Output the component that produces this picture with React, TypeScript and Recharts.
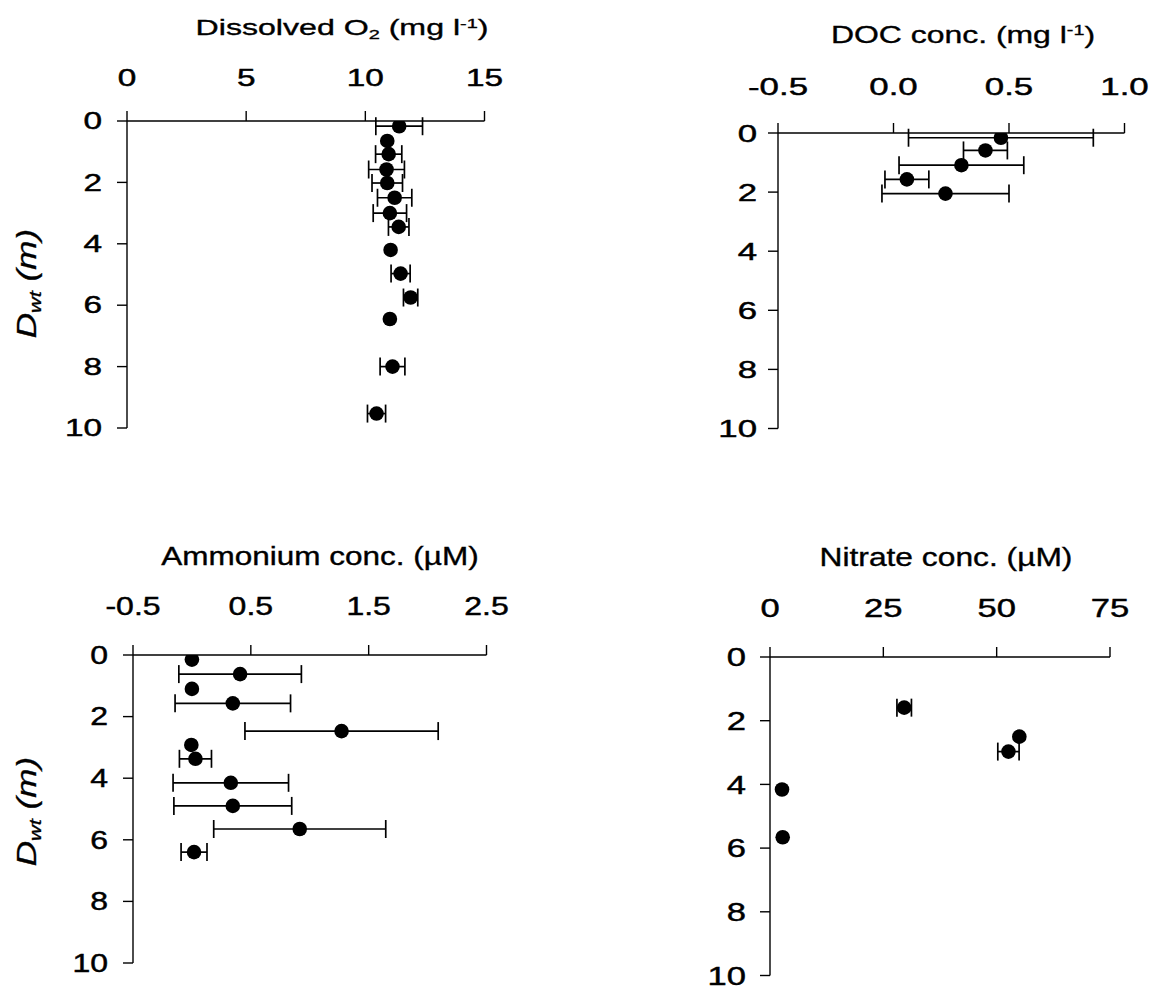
import React from "react";
import { ScatterChart, Scatter, XAxis, YAxis, ErrorBar } from "recharts";

const o2Depth = [0.17, 0.65, 1.08, 1.58, 2.02, 2.5, 3.0, 3.45, 4.2, 4.97, 5.75, 6.45, 8.0, 9.53];
const o2Value = [11.42, 10.92, 10.98, 10.89, 10.92, 11.23, 11.03, 11.4, 11.06, 11.48, 11.9, 11.03, 11.14, 10.47];
const o2Err = [0.98, 0, 0.55, 0.75, 0.64, 0.72, 0.7, 0.43, 0, 0.4, 0.3, 0, 0.52, 0.38];

const docDepth = [0.16, 0.59, 1.09, 1.57, 2.05];
const docValue = [0.465, 0.398, 0.294, 0.058, 0.225];
const docErr = [0.4, 0.095, 0.27, 0.095, 0.275];

const nh4Depth = [0.15, 0.62, 1.1, 1.57, 2.47, 2.92, 3.37, 4.15, 4.9, 5.65, 6.4];
const nh4Value = [0.0, 0.409, 0.0, 0.347, 1.27, -0.005, 0.03, 0.33, 0.347, 0.915, 0.018];
const nh4Err = [0, 0.52, 0, 0.49, 0.82, 0, 0.136, 0.49, 0.5, 0.73, 0.11];

const no3Depth = [1.59, 2.5, 2.97, 4.16, 5.66];
const no3Value = [29.6, 55.0, 52.6, 2.65, 2.8];
const no3Err = [1.6, 0, 2.35, 0, 0];

const depthTicks = [0, 2, 4, 6, 8, 10];
const o2Ticks = [0, 5, 10, 15];
const docTicks = [-0.5, 0.0, 0.5, 1.0];
const nh4Ticks = [-0.5, 0.5, 1.5, 2.5];
const no3Ticks = [0, 25, 50, 75];

const SANS = '"Liberation Sans", Arial, sans-serif';

const toRows = (depth: number[], value: number[], err: number[]) =>
  depth.map((d, i) => ({ depth: d, value: value[i], err: err[i] }));

const Dot = (props: any) => <circle cx={props.cx} cy={props.cy} r={7.3} fill="#000" />;

// the scanned figure's lettering is wider than Arial, so stretch it sideways
const makeTick = (fs: number, sx: number, fmt: (v: number) => string, side: "top" | "left") =>
  (props: any) => {
    const { x, y, payload } = props;
    return (
      <text
        transform={`translate(${x},${y}) scale(${sx},1)`}
        textAnchor={side === "top" ? "middle" : "end"}
        dy={side === "top" ? 0 : "0.355em"}
        fontSize={fs}
        fontFamily={SANS}
        fill="#000"
        stroke="#000"
        strokeWidth={0.45}
      >
        {fmt(payload.value)}
      </text>
    );
  };

interface PanelProps {
  rows: { depth: number; value: number; err: number }[];
  xTicks: number[];
  decimals: number;
  plot: { x: number; y: number; w: number; h: number };
  fontSize: number;
  sx: number;
  xTickMargin: number;
  yTickMargin: number;
}

const YW = 80;
const XH = 90;

function Panel({ rows, xTicks, decimals, plot, fontSize, sx, xTickMargin, yTickMargin }: PanelProps) {
  return (
    <div style={{ position: "absolute", left: plot.x - YW, top: plot.y - XH }}>
      <ScatterChart
        width={YW + plot.w + 40}
        height={XH + plot.h + 20}
        margin={{ top: 0, right: 40, bottom: 20, left: 0 }}
      >
        <XAxis
          type="number"
          dataKey="value"
          orientation="top"
          height={XH}
          domain={[xTicks[0], xTicks[xTicks.length - 1]]}
          ticks={xTicks}
          interval={0}
          allowDataOverflow
          tick={makeTick(fontSize, sx, (v) => v.toFixed(decimals), "top")}
          tickSize={10}
          tickMargin={xTickMargin}
          stroke="#000"
          strokeWidth={1.4}
        />
        <YAxis
          type="number"
          dataKey="depth"
          width={YW}
          reversed
          domain={[0, 10]}
          ticks={depthTicks}
          interval={0}
          allowDataOverflow
          tick={makeTick(fontSize, sx, (v) => String(v), "left")}
          tickSize={10}
          tickMargin={yTickMargin}
          stroke="#000"
          strokeWidth={1.4}
        />
        <Scatter data={rows} fill="#000" shape={Dot} isAnimationActive={false}>
          <ErrorBar dataKey="err" direction="x" width={9} stroke="#000" strokeWidth={1.7} isAnimationActive={false} />
        </Scatter>
      </ScatterChart>
    </div>
  );
}

const supStyle: React.CSSProperties = { fontSize: "0.62em", verticalAlign: "0.55em", lineHeight: 0 };
const subStyle: React.CSSProperties = { fontSize: "0.62em", verticalAlign: "-0.3em", lineHeight: 0 };

function Title({ cx, baseline, fs, sx, children }: { cx: number; baseline: number; fs: number; sx: number; children: React.ReactNode }) {
  return (
    <div
      style={{
        position: "absolute",
        left: cx - 250,
        width: 500,
        top: baseline - fs * 0.85,
        textAlign: "center",
        fontFamily: SANS,
        fontSize: fs,
        lineHeight: 1,
        whiteSpace: "nowrap",
        color: "#000",
        WebkitTextStroke: "0.35px #000",
        transform: `scaleX(${sx})`,
      }}
    >
      {children}
    </div>
  );
}

function DepthLabel({ cx, cy }: { cx: number; cy: number }) {
  const fs = 27;
  return (
    <div
      style={{
        position: "absolute",
        left: cx - 100,
        top: cy - fs / 2,
        width: 200,
        textAlign: "center",
        fontFamily: SANS,
        fontStyle: "italic",
        fontSize: fs,
        lineHeight: 1,
        WebkitTextStroke: "0.3px #000",
        transform: "rotate(-90deg) scaleX(1.3)",
        whiteSpace: "nowrap",
      }}
    >
      D<span style={subStyle}>wt</span> (m)
    </div>
  );
}

export default function App() {
  return (
    <div style={{ position: "absolute", left: 0, top: 0, width: 1152, height: 990, background: "#fff" }}>
      <Title cx={342} baseline={36} fs={22} sx={1.46}>
        Dissolved O<span style={subStyle}>2</span> (mg l<span style={supStyle}>-1</span>)
      </Title>
      <Title cx={963} baseline={43} fs={24} sx={1.33}>
        DOC conc. (mg l<span style={supStyle}>-1</span>)
      </Title>
      <Title cx={320} baseline={565} fs={25} sx={1.26}>
        Ammonium conc. (µM)
      </Title>
      <Title cx={946} baseline={566} fs={25} sx={1.27}>
        Nitrate conc. (µM)
      </Title>

      <DepthLabel cx={27} cy={283} />
      <DepthLabel cx={27} cy={811} />

      <Panel
        rows={toRows(o2Depth, o2Value, o2Err)}
        xTicks={o2Ticks}
        decimals={0}
        plot={{ x: 126.5, y: 120.5, w: 357.5, h: 307 }}
        fontSize={23}
        sx={1.45}
        xTickMargin={25}
        yTickMargin={15}
      />
      <Panel
        rows={toRows(docDepth, docValue, docErr)}
        xTicks={docTicks}
        decimals={1}
        plot={{ x: 777.5, y: 132.5, w: 346.5, h: 295.5 }}
        fontSize={24}
        sx={1.45}
        xTickMargin={28}
        yTickMargin={11}
      />
      <Panel
        rows={toRows(nh4Depth, nh4Value, nh4Err)}
        xTicks={nh4Ticks}
        decimals={1}
        plot={{ x: 132.5, y: 655, w: 353.5, h: 308 }}
        fontSize={25}
        sx={1.28}
        xTickMargin={30}
        yTickMargin={15}
      />
      <Panel
        rows={toRows(no3Depth, no3Value, no3Err)}
        xTicks={no3Ticks}
        decimals={0}
        plot={{ x: 769.5, y: 656.5, w: 340, h: 318.5 }}
        fontSize={26}
        sx={1.33}
        xTickMargin={30}
        yTickMargin={14}
      />
    </div>
  );
}
